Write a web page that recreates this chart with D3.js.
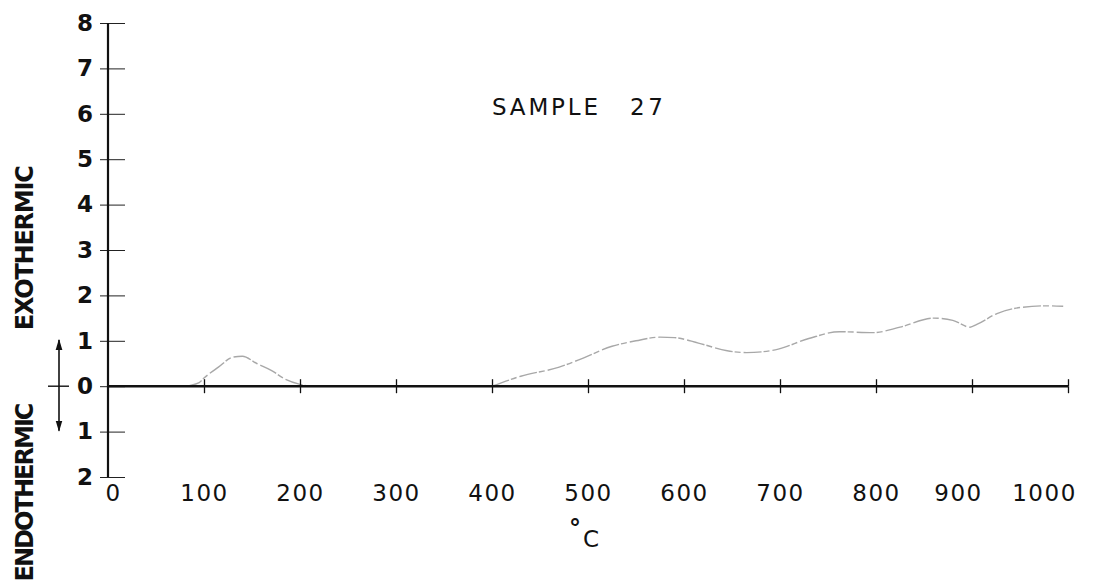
<!DOCTYPE html>
<html>
<head>
<meta charset="utf-8">
<script src="https://cdn.jsdelivr.net/npm/d3@7"></script>
<style>
  body { margin: 0; background: #fff; }
  #chart text { font-family: "DejaVu Sans", sans-serif; fill: #111; }
</style>
</head>
<body>
<div id="chart"></div>
<script>
// temperatures (deg C) and deflection
const peakTemps = [80, 95, 100, 115, 130, 140, 155, 170, 185, 200, 210];
const peakValues = [0, 0.08, 0.18, 0.42, 0.64, 0.66, 0.5, 0.35, 0.15, 0.04, 0];
const highTemps = [400, 430, 470, 495, 525, 550, 575, 590, 615, 645, 665, 695, 730, 762, 797, 825, 860, 880, 898, 905, 926, 953, 978, 995];
const highValues = [0, 0.22, 0.42, 0.62, 0.88, 1.0, 1.08, 1.07, 0.95, 0.78, 0.74, 0.8, 1.05, 1.2, 1.18, 1.3, 1.5, 1.45, 1.3, 1.36, 1.6, 1.74, 1.77, 1.76];
const xTicks = [0, 100, 200, 300, 400, 500, 600, 700, 800, 900, 1000];
const yTicks = [8, 7, 6, 5, 4, 3, 2, 1, 0, -1, -2];
const title = ["SAMPLE", "27"];

const width = 1105;
const height = 588;

const svg = d3.select("#chart")
    .append("svg")
    .attr("width", width)
    .attr("height", height);

const x = d3.scaleLinear().domain([0, 1000]).range([108, 1068]);
const y = d3.scaleLinear().domain([-2, 8]).range([477, 23]);

// the trace, drawn first so the baseline sits over it
const line = d3.line()
    .x(d => x(d[0]))
    .y(d => y(d[1]))
    .curve(d3.curveMonotoneX);

[d3.zip(peakTemps, peakValues), d3.zip(highTemps, highValues)].forEach(seg => {
    svg.append("path")
        .datum(seg)
        .attr("fill", "none")
        .attr("stroke", "#a8a8a8")
        .attr("stroke-width", 1.4)
        .attr("stroke-dasharray", "18,2,6,3")
        .attr("d", line);
});

// y axis: labels on the left, ticks crossing the line
const yAxis = svg.append("g")
    .attr("transform", `translate(${x(0)},0)`)
    .call(d3.axisLeft(y).tickValues(yTicks).tickFormat(d => Math.abs(d)).tickSize(8).tickPadding(7));
yAxis.select(".domain").remove();
yAxis.selectAll("text")
    .attr("font-size", 23)
    .attr("font-weight", "bold");
yAxis.selectAll("line").attr("stroke", "#222").attr("stroke-width", 1);

const yRight = svg.append("g")
    .attr("transform", `translate(${x(0)},0)`)
    .call(d3.axisRight(y).tickValues(yTicks).tickFormat("").tickSize(17));
yRight.select(".domain").remove();
yRight.selectAll("line").attr("stroke", "#222").attr("stroke-width", 1);

svg.append("line")
    .attr("x1", x(0)).attr("x2", x(0))
    .attr("y1", y(8)).attr("y2", y(-2))
    .attr("stroke", "#111")
    .attr("stroke-width", 2.2);

// baseline with crossing ticks
const xDown = svg.append("g")
    .attr("transform", `translate(0,${y(0)})`)
    .call(d3.axisBottom(x).tickValues(xTicks.slice(1)).tickFormat("").tickSize(7));
const xUp = svg.append("g")
    .attr("transform", `translate(0,${y(0)})`)
    .call(d3.axisTop(x).tickValues(xTicks.slice(1)).tickFormat("").tickSize(7));
[xDown, xUp].forEach(g => {
    g.select(".domain").remove();
    g.selectAll("line").attr("stroke", "#111").attr("stroke-width", 1.3);
});

svg.append("line")
    .attr("x1", x(0)).attr("x2", x(1000))
    .attr("y1", y(0)).attr("y2", y(0))
    .attr("stroke", "#111")
    .attr("stroke-width", 2.6);

// temperature labels well below the baseline
const xLabels = svg.append("g")
    .attr("transform", `translate(0,${y(0)})`)
    .call(d3.axisBottom(x).tickValues(xTicks).tickFormat(d3.format("d")).tickSize(0).tickPadding(98));
xLabels.select(".domain").remove();
xLabels.selectAll("text")
    .attr("font-size", 23)
    .attr("letter-spacing", 1.5)
    .attr("dx", d => d === 0 ? 5 : d === 900 ? -14 : d === 1000 ? -24 : 0);

// degree C
svg.append("text")
    .attr("x", 575).attr("y", 537)
    .attr("text-anchor", "middle")
    .attr("font-size", 24)
    .attr("font-weight", "bold")
    .text("°");
svg.append("text")
    .attr("x", 591).attr("y", 547)
    .attr("text-anchor", "middle")
    .attr("font-size", 23)
    .text("C");

// title
svg.append("text")
    .attr("x", 492).attr("y", 115)
    .attr("font-size", 23)
    .attr("textLength", 106)
    .attr("lengthAdjust", "spacing")
    .text(title[0]);
svg.append("text")
    .attr("x", 630).attr("y", 115)
    .attr("font-size", 23)
    .attr("textLength", 33)
    .attr("lengthAdjust", "spacing")
    .text(title[1]);

// side labels
svg.append("text")
    .attr("transform", `translate(33,${(y(1.2) + y(4.9)) / 2}) rotate(-90)`)
    .attr("text-anchor", "middle")
    .attr("font-size", 24)
    .attr("font-weight", "bold")
    .attr("textLength", 165)
    .attr("lengthAdjust", "spacing")
    .text("EXOTHERMIC");
svg.append("text")
    .attr("transform", `translate(33,492) rotate(-90)`)
    .attr("text-anchor", "middle")
    .attr("font-size", 24)
    .attr("font-weight", "bold")
    .attr("textLength", 179)
    .attr("lengthAdjust", "spacing")
    .text("ENDOTHERMIC");

// double arrow at the zero line
svg.append("defs").append("marker")
    .attr("id", "head")
    .attr("viewBox", "0 -5 10 10")
    .attr("refX", 9)
    .attr("markerWidth", 7)
    .attr("markerHeight", 9)
    .attr("orient", "auto-start-reverse")
    .append("path")
    .attr("d", "M0,-3L10,0L0,3Z")
    .attr("fill", "#111");

svg.append("line")
    .attr("x1", 59).attr("x2", 59)
    .attr("y1", y(1.02)).attr("y2", y(-0.98))
    .attr("stroke", "#111")
    .attr("stroke-width", 1.6)
    .attr("marker-start", "url(#head)")
    .attr("marker-end", "url(#head)");
svg.append("line")
    .attr("x1", 48).attr("x2", 69)
    .attr("y1", y(0)).attr("y2", y(0))
    .attr("stroke", "#111")
    .attr("stroke-width", 1.4);
</script>
</body>
</html>
